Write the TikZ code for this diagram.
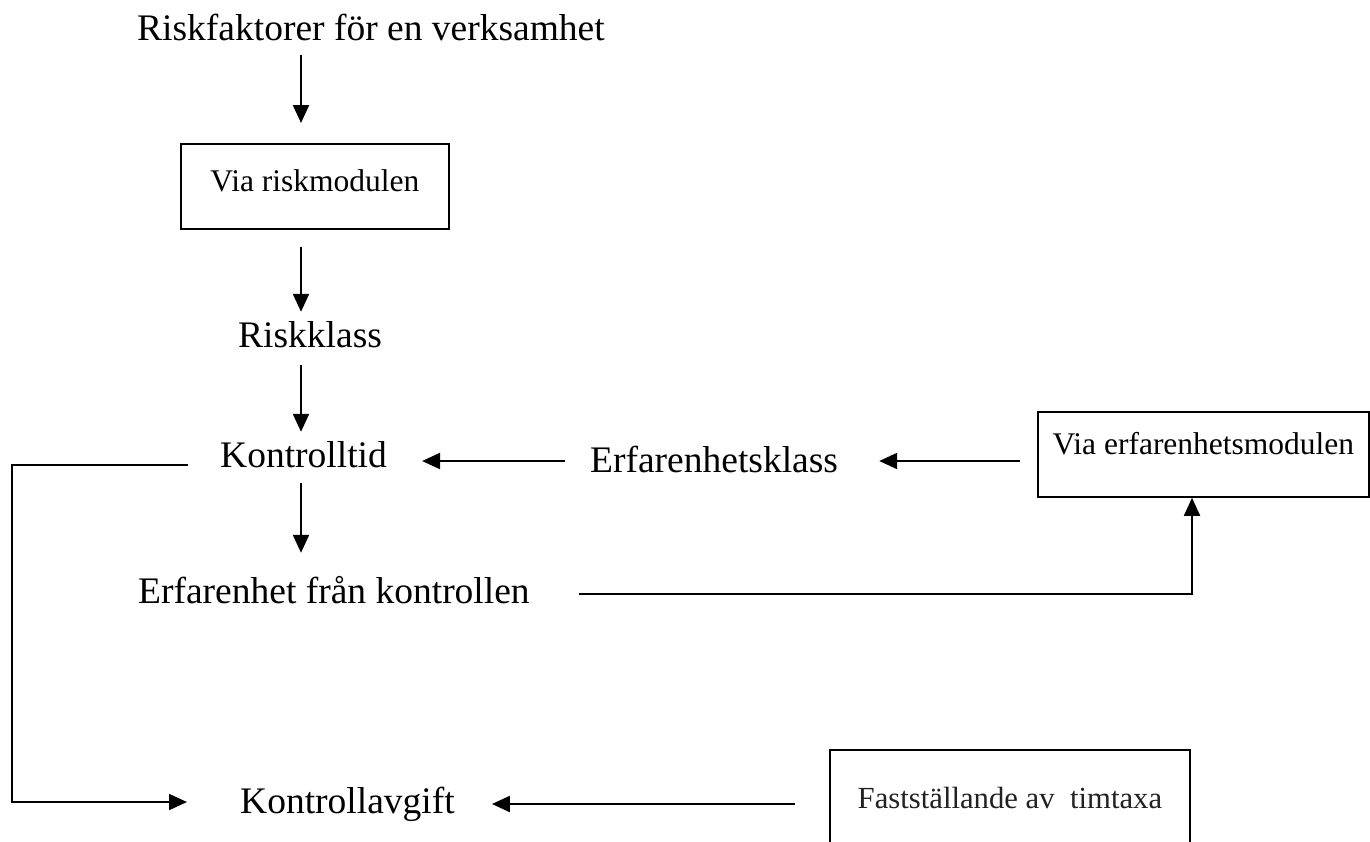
\documentclass[tikz,border=0pt]{standalone}
\usepackage{fontspec}
\setmainfont{Liberation Serif}
\usetikzlibrary{arrows.meta}
\tikzset{
  big/.style={font=\fontsize{37.5}{40}\selectfont, inner sep=0pt, text height=26pt, text depth=8pt, anchor=base west},
  boxnode/.style={draw, line width=1.8pt, inner xsep=0pt, inner ysep=0pt, anchor=north west, align=center},
  arr/.style={line width=2.2pt, -{Triangle[length=18pt,width=16pt]}},
}
\begin{document}
\begin{tikzpicture}[x=1pt,y=-1pt]
\useasboundingbox (0,0) rectangle (1370,841);
% text nodes
\node[big] (rf) at (137,40) {Riskfaktorer för en verksamhet};
\node[big] (rk) at (238,347) {Riskklass};
\node[big] (kt) at (220,467) {Kontrolltid};
\node[big] (ek) at (590,472) {Erfarenhetsklass};
\node[big] (ef) at (138,603) {Erfarenhet från kontrollen};
\node[big] (ka) at (240,813) {Kontrollavgift};
% boxes
\node[boxnode, minimum width=268pt, text height=48pt, text depth=37pt, font=\fontsize{31.5}{34}\selectfont] (b1) at (180,143) {Via riskmodulen};
\node[boxnode, minimum width=331pt, text height=43pt, text depth=42pt, font=\fontsize{31.5}{34}\selectfont] (b2) at (1037,411) {Via erfarenhetsmodulen};
\node[boxnode, minimum width=360pt, text height=59pt, text depth=62pt, font=\fontsize{30.7}{33}\selectfont, text=black!87] (b3) at (829,749) {Fastställande av\ \ timtaxa};
% helper coordinates
\coordinate (col) at (301,0);
\coordinate (up) at (1192,0);
\coordinate (lc) at (12,802);
% vertical chain
\draw[arr, shorten <=7pt, shorten >=20pt] (rf.south -| col) -- (b1.north -| col);
\draw[arr, shorten <=17pt, shorten >=9pt] (b1.south -| col) -- (rk.north -| col);
\draw[arr, shorten <=10pt, shorten >=9pt] (rk.south -| col) -- (kt.north -| col);
\draw[arr, shorten <=8pt, shorten >=24pt] (kt.south -| col) -- (ef.north -| col);
% horizontal arrows
\draw[arr, shorten <=25pt, shorten >=35pt] ([yshift=2pt]ek.west) -- ([yshift=2pt]ek.west -| kt.east);
\draw[arr, shorten <=17pt, shorten >=41pt] ([yshift=2pt]b2.west |- ek.east) -- ([yshift=2pt]ek.east);
\draw[arr, shorten <=34pt, shorten >=37pt] (b3.west |- ka.east) -- (ka.east);
% experience feedback
\draw[arr, line width=1.8pt, shorten <=49pt] (ef.east) -| (b2.south -| up);
% left loop
\draw[arr, line width=1.8pt, shorten <=32pt, shorten >=53pt] ([yshift=-7pt]kt.west) -| (lc) -- (lc -| ka.west);
\end{tikzpicture}
\end{document}
